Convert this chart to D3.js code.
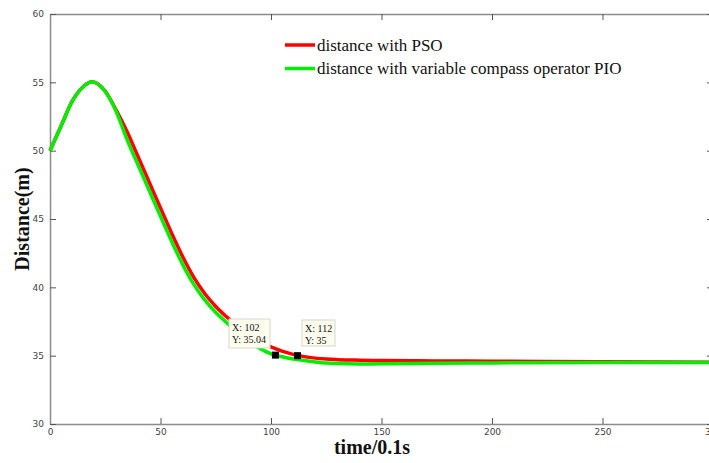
<!DOCTYPE html>
<html><head><meta charset="utf-8">
<script src="https://cdn.jsdelivr.net/npm/d3@7"></script>
<style>body{margin:0;background:#fff}svg{display:block}</style>
</head><body>
<svg id="c" width="709" height="463"></svg>
<script>
const times   = [0,5,10,15,19,25,30,35,40,45,50,55,60,65,70,75,80,85,90,95,100,102,105,110,112,115,120,125,130,140,150,175,200,250,300];
const psoDist = [50,51.8,53.6,54.68,55.05,54.35,52.95,51.35,49.5,47.65,45.8,43.975,42.25,40.75,39.55,38.6,37.825,37.125,36.525,36.025,35.64,35.52,35.33,35.095,35.02,34.93,34.82,34.75,34.71,34.67,34.645,34.615,34.59,34.55,34.51];
const pioDist = [50,51.8,53.6,54.68,55.05,54.33,52.85,50.75,48.9,47.05,45.2,43.38,41.68,40.23,39.08,38.16,37.41,36.66,36.035,35.535,35.135,35.04,34.92,34.76,34.71,34.64,34.54,34.46,34.42,34.39,34.4,34.44,34.47,34.5,34.5];
const xTicks = [0,50,100,150,200,250,300];
const yTicks = [30,35,40,45,50,55,60];
const tipX = [102,112];
const tipY = [35.04,35];
const legendLabels = ["distance with PSO","distance with variable compass operator PIO"];
const colors = ["#ff0000","#00ee00"];

const svg = d3.select("#c");
const L=50, R=713, T=14, B=424;
const x = d3.scaleLinear().domain([0,300]).range([L,R]);
const y = d3.scaleLinear().domain([30,60]).range([B,T]);
const axisColor = "#8c8c8c";

function styleAxis(g){
  g.selectAll(".domain").attr("stroke",axisColor).attr("stroke-width",1.5);
  g.selectAll(".tick line").attr("stroke","#555").attr("stroke-width",1);
  g.selectAll(".tick text").attr("fill","#444").attr("font-family","'DejaVu Sans',sans-serif").attr("font-size",9);
}
const fmt = d3.format("d");
svg.append("g").attr("transform",`translate(0,${B})`)
  .call(d3.axisBottom(x).tickValues(xTicks).tickFormat(fmt).tickSizeInner(-6).tickSizeOuter(0).tickPadding(5)).call(styleAxis);
svg.append("g").attr("transform",`translate(0,${T})`)
  .call(d3.axisTop(x).tickValues(xTicks).tickFormat("").tickSizeInner(-6).tickSizeOuter(0)).call(styleAxis);
svg.append("g").attr("transform",`translate(${L},0)`)
  .call(d3.axisLeft(y).tickValues(yTicks).tickFormat(fmt).tickSizeInner(-6).tickSizeOuter(0).tickPadding(6)).call(styleAxis);
svg.append("g").attr("transform",`translate(${R},0)`)
  .call(d3.axisRight(y).tickValues(yTicks).tickFormat("").tickSizeInner(-6).tickSizeOuter(0)).call(styleAxis);

const line = d3.line().x(d=>x(d[0])).y(d=>y(d[1])).curve(d3.curveMonotoneX);
const series = [psoDist, pioDist];
series.forEach((s,i)=>{
  svg.append("path").datum(times.map((t,j)=>[t,s[j]]))
    .attr("d",line).attr("fill","none").attr("stroke",colors[i]).attr("stroke-width",3.5)
    .attr("stroke-linejoin","round");
});

// data tips
tipX.forEach((tx,i)=>{
  const px = x(tx), py = y(tipY[i]);
  svg.append("rect").attr("x",px-3.5).attr("y",py-3.5).attr("width",7).attr("height",7).attr("fill","#000");
});
const tipBoxes = [[229,319,41,29],[302,320,33,26]];
tipX.forEach((tx,i)=>{
  const b = tipBoxes[i];
  svg.append("rect").attr("x",b[0]).attr("y",b[1]).attr("width",b[2]).attr("height",b[3])
    .attr("fill","#fdfdee").attr("stroke","#d6d6d0").attr("stroke-width",1);
  const t = svg.append("text").attr("font-family","'Liberation Serif',serif").attr("font-size",10).attr("fill","#111");
  t.append("tspan").attr("x",b[0]+3).attr("y",b[1]+12).text("X: "+tx);
  t.append("tspan").attr("x",b[0]+3).attr("y",b[1]+24).text("Y: "+tipY[i]);
});

// legend
legendLabels.forEach((lab,i)=>{
  const ly = 45 + i*23.5;
  svg.append("line").attr("x1",285).attr("x2",315).attr("y1",ly).attr("y2",ly).attr("stroke",colors[i]).attr("stroke-width",3.5);
  svg.append("text").attr("x",317).attr("y",ly+5.5).attr("font-family","'Liberation Serif',serif").attr("font-size",17).attr("fill","#111").text(lab);
});

// axis titles
svg.append("text").attr("x",(L+694)/2).attr("y",454).attr("text-anchor","middle")
  .attr("font-family","'Liberation Serif',serif").attr("font-weight","bold").attr("font-size",20).attr("fill","#111").text("time/0.1s");
svg.append("text").attr("transform",`translate(29,219) rotate(-90)`).attr("text-anchor","middle")
  .attr("font-family","'Liberation Serif',serif").attr("font-weight","bold").attr("font-size",20).attr("fill","#111").text("Distance(m)");
</script>
</body></html>
